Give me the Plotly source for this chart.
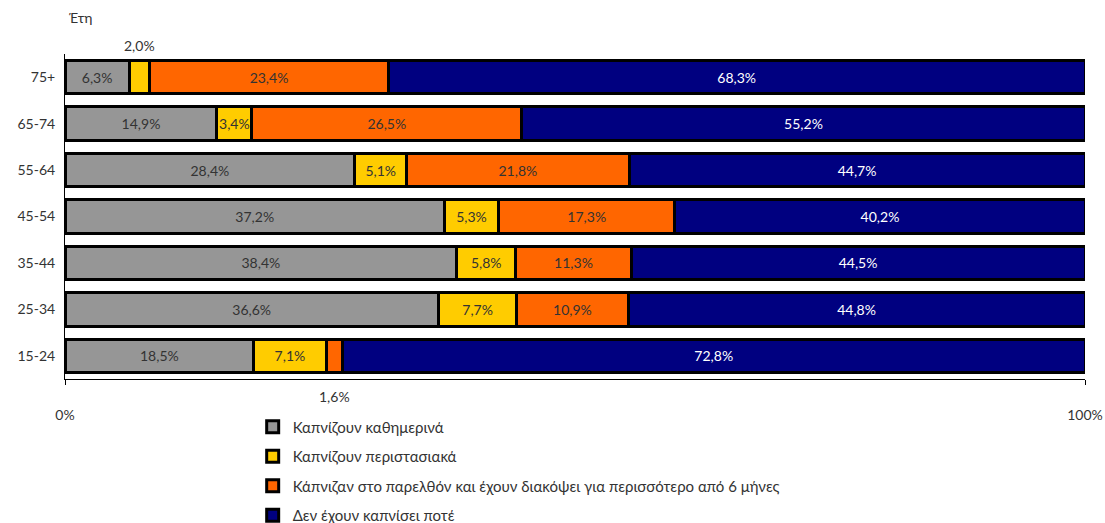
import plotly.graph_objects as go

# Age groups (bottom to top) and share of each smoking status, %
age_groups = ["15-24", "25-34", "35-44", "45-54", "55-64", "65-74", "75+"]
daily = [18.5, 36.6, 38.4, 37.2, 28.4, 14.9, 6.3]
occasional = [7.1, 7.7, 5.8, 5.3, 5.1, 3.4, 2.0]
quit_6m = [1.6, 10.9, 11.3, 17.3, 21.8, 26.5, 23.4]
never = [72.8, 44.8, 44.5, 40.2, 44.7, 55.2, 68.3]

series_names = [
    "Καπνίζουν καθημερινά",
    "Καπνίζουν περιστασιακά",
    "Κάπνιζαν στο παρελθόν και έχουν διακόψει για περισσότερο από 6 μήνες",
    "Δεν έχουν καπνίσει ποτέ",
]
series_values = [daily, occasional, quit_6m, never]
colors = ["#969696", "#FFCC00", "#FF6600", "#000080"]
text_colors = ["#333333", "#333333", "#333333", "#FFFFFF"]

FONT = "Lato, 'DejaVu Sans', sans-serif"
MIN_INSIDE = 3.0  # segments narrower than this get their label outside the bar


def fmt(v):
    return f"{v:.1f}".replace(".", ",") + "%"


fig = go.Figure()
for k, (name, vals, col, tcol) in enumerate(zip(series_names, series_values, colors, text_colors)):
    labels = [fmt(v) if v >= MIN_INSIDE else "" for v in vals]
    fig.add_trace(go.Bar(
        y=age_groups, x=vals, name=name, orientation="h",
        legendgroup=f"g{k}",
        marker=dict(color=col, line=dict(color="#000000", width=3)),
        text=labels, textposition="inside", insidetextanchor="middle",
        textangle=0, constraintext="none",
        textfont=dict(color=tcol, size=14, family=FONT),
        width=0.72, hoverinfo="skip",
    ))

# Labels for the narrow segments, placed above/below their bars
annotations = []
for vals, prev in ((occasional, daily), (quit_6m, [d + o for d, o in zip(daily, occasional)])):
    for i, (v, base) in enumerate(zip(vals, prev)):
        if v < MIN_INSIDE:
            top = i == len(age_groups) - 1
            annotations.append(dict(
                x=base + v / 2, y=age_groups[i], xref="x", yref="y",
                text=fmt(v), showarrow=False,
                yshift=32 if top else -41,
                font=dict(size=14, color="#333333", family=FONT),
            ))

annotations.append(dict(
    x=0, y=1, xref="paper", yref="paper", text="Έτη", showarrow=False,
    xanchor="left", yanchor="bottom", xshift=2, yshift=26,
    font=dict(size=14, color="#333333", family=FONT),
))

fig.update_layout(
    barmode="stack",
    separators=",.",
    width=1105, height=523,
    margin=dict(l=65, r=20, t=54, b=144),
    paper_bgcolor="white", plot_bgcolor="white",
    font=dict(family=FONT, size=14, color="#333333"),
    annotations=annotations,
    legend=dict(
        x=0.184, y=0.215, xref="paper", yref="container",
        xanchor="left", yanchor="top",
        traceorder="grouped", orientation="v",
        font=dict(size=15, color="#333333", family=FONT),
        itemwidth=30, tracegroupgap=7,
    ),
    showlegend=True,
)
fig.update_xaxes(
    range=[0, 100], tickvals=[0, 100], ticktext=["0%", "100%"],
    showgrid=True, gridcolor="#000000", gridwidth=1,
    showline=True, linecolor="#000000", linewidth=1,
    ticks="outside", ticklen=5, tickcolor="#000000",
    ticklabelstandoff=18, zeroline=False, automargin=False,
    tickfont=dict(size=14, color="#333333"),
)
fig.update_yaxes(
    categoryorder="array", categoryarray=age_groups,
    range=[-0.5, 6.5], automargin=False,
    showline=True, linecolor="#000000", linewidth=1,
    ticks="", ticklabelstandoff=6,
    tickfont=dict(size=14, color="#333333"),
)

fig.write_html("out.html")
